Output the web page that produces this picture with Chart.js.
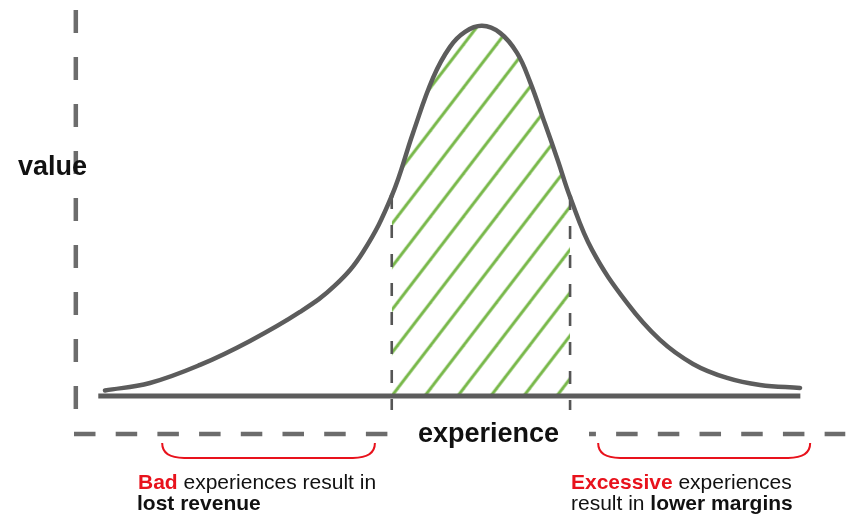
<!DOCTYPE html>
<html>
<head>
<meta charset="utf-8">
<script src="https://cdn.jsdelivr.net/npm/chart.js@4/dist/chart.umd.min.js"></script>
<style>
html,body{margin:0;padding:0;background:#ffffff;}
canvas{display:block;}
</style>
</head>
<body>
<canvas id="c" width="853" height="521"></canvas>
<script>
// ---- data ----
const experience = [0.95, 7.36, 14.49, 21.61, 28.73, 33.72, 37.71, 41.8, 44.83, 47.68, 50.10, 52.24, 54.66, 57.22, 59.64, 61.50, 63.63, 65.48, 67.2, 70.33, 75.31, 80.01, 84.71, 89.56, 94.26, 99.96];
const value      = [1.48, 3.50, 8.36, 14.82, 22.64, 29.78, 38.81, 53.9, 70.89, 85.71, 94.07, 98.11, 99.73, 97.84, 92.45, 84.64, 73.32, 63.34, 53.6, 39.35, 25.07, 15.09, 8.63, 4.85, 2.96, 2.16];
const hatchRange = [41.8, 67.2];
const baselineRange = [0, 100];
const xAxisTitle = 'experience';
const yAxisTitle = 'value';
const bracketSpans = [[9.1, 39.4], [71.2, 101.4]];
// note runs: [text, bold, red]
const leftNoteLine1 = [['Bad', true, true], [' experiences result in', false, false]];
const leftNoteLine2 = [['lost revenue', true, false]];
const rightNoteLine1 = [['Excessive', true, true], [' experiences', false, false]];
const rightNoteLine2 = [['result in ', false, false], ['lower margins', true, false]];

// ---- styling constants ----
const GREY = '#5c5c5c';
const AXIS_GREY = '#6c6c6c';
const RED = '#e8121c';
const GREEN = '#78b84a';
const FONT = '"Liberation Sans", Arial, Helvetica, sans-serif';

const canvas = document.getElementById('c');
const mainCtx = canvas.getContext('2d');

// hatch pattern
const HW = 33, HH = 43;
const tile = document.createElement('canvas');
tile.width = HW; tile.height = HH;
const tg = tile.getContext('2d');
tg.strokeStyle = GREEN;
tg.lineWidth = 3;
for (const m of [0, 1, 2]) {
  tg.beginPath();
  tg.moveTo(-HW, m * HH + HH);
  tg.lineTo(2 * HW, m * HH - 2 * HH);
  tg.stroke();
}
const hatch = mainCtx.createPattern(tile, 'repeat');

const curvePoints = experience.map((x, i) => ({x: x, y: value[i]}));
const yAt = x => value[experience.indexOf(x)];
const guideBottom = -3.8;
const axisX = -3.2, axisYTop = 104;
const axisY = -10.24, axisXStart = -3.46, axisGapStart = 41.4, axisGapEnd = 69.9, axisXEnd = 106.4;

const inRange = c => c.p0.parsed.x >= hatchRange[0] - 1e-9 && c.p1.parsed.x <= hatchRange[1] + 1e-9;

const overlay = {
  id: 'overlay',
  beforeDraw(chart) {
    const xs = chart.scales.x, ys = chart.scales.y;
    const px0 = xs.getPixelForValue(hatchRange[0]);
    const py0 = ys.getPixelForValue(0);
    const s = HH / HW;
    const r = (((py0 + s * px0) % HH) + HH) % HH;
    hatch.setTransform(new DOMMatrix([1, 0, 0, 1, r / s, 0]));
  },
  afterDraw(chart) {
    const ctx = chart.ctx;
    const xs = chart.scales.x, ys = chart.scales.y;
    ctx.save();
    // brackets
    ctx.strokeStyle = RED;
    ctx.lineWidth = 2;
    const yT = ys.getPixelForValue(-12.7), yB = ys.getPixelForValue(-16.7);
    for (const [a, b] of bracketSpans) {
      const x1 = xs.getPixelForValue(a), x2 = xs.getPixelForValue(b);
      ctx.beginPath();
      ctx.moveTo(x1, yT);
      ctx.quadraticCurveTo(x1, yB, x1 + 22, yB);
      ctx.lineTo(x2 - 22, yB);
      ctx.quadraticCurveTo(x2, yB, x2, yT);
      ctx.stroke();
    }
    ctx.textBaseline = 'alphabetic';
    ctx.textAlign = 'left';
    // axis titles
    ctx.fillStyle = '#111';
    ctx.font = 'bold 27px ' + FONT;
    ctx.fillText(yAxisTitle, 18, 175);
    ctx.fillText(xAxisTitle, 418, 442);
    // notes
    const runs = (list, x, y) => {
      for (const [t, b, red] of list) {
        ctx.font = (b ? 'bold ' : '') + '21px ' + FONT;
        ctx.fillStyle = red ? RED : '#111';
        ctx.fillText(t, x, y);
        x += ctx.measureText(t).width;
      }
    };
    runs(leftNoteLine1, 138, 489);
    runs(leftNoteLine2, 137, 510);
    runs(rightNoteLine1, 571, 489);
    runs(rightNoteLine2, 571, 510);
    ctx.restore();
  }
};

new Chart(canvas, {
  type: 'line',
  data: {
    datasets: [
      {
        label: 'curve',
        data: curvePoints,
        borderColor: GREY,
        borderWidth: 4.5,
        borderCapStyle: 'round',
        borderJoinStyle: 'round',
        tension: 0.4,
        pointRadius: 0,
        fill: 'origin',
        backgroundColor: 'rgba(0,0,0,0)',
        segment: { backgroundColor: c => inRange(c) ? hatch : 'rgba(0,0,0,0)' },
        order: 1
      },
      {
        label: 'baseline',
        data: [{x: baselineRange[0], y: 0}, {x: baselineRange[1], y: 0}],
        borderColor: GREY,
        borderWidth: 5,
        pointRadius: 0,
        fill: false,
        order: 2
      },
      {
        label: 'guideLow',
        data: [{x: hatchRange[0], y: yAt(hatchRange[0])}, {x: hatchRange[0], y: guideBottom}],
        borderColor: '#555',
        borderWidth: 2.6,
        borderDash: [13, 16],
        pointRadius: 0,
        fill: false,
        order: 3
      },
      {
        label: 'guideHigh',
        data: [{x: hatchRange[1], y: yAt(hatchRange[1])}, {x: hatchRange[1], y: guideBottom}],
        borderColor: '#555',
        borderWidth: 2.6,
        borderDash: [13, 16],
        pointRadius: 0,
        fill: false,
        order: 3
      },
      {
        label: 'yAxis',
        data: [{x: axisX, y: axisYTop}, {x: axisX, y: guideBottom}],
        borderColor: AXIS_GREY,
        borderWidth: 4.5,
        borderDash: [23, 24],
        pointRadius: 0,
        fill: false,
        order: 4
      },
      {
        label: 'xAxisLeft',
        data: [{x: axisXStart, y: axisY}, {x: axisGapStart, y: axisY}],
        borderColor: AXIS_GREY,
        borderWidth: 4.5,
        borderDash: [21.5, 20.2],
        pointRadius: 0,
        fill: false,
        order: 4
      },
      {
        label: 'xAxisRight',
        data: [{x: axisGapEnd, y: axisY}, {x: axisXEnd, y: axisY}],
        borderColor: AXIS_GREY,
        borderWidth: 4.5,
        borderDash: [21.5, 20.2],
        borderDashOffset: 14.6,
        pointRadius: 0,
        fill: false,
        order: 4
      }
    ]
  },
  options: {
    responsive: false,
    devicePixelRatio: 1,
    animation: false,
    events: [],
    layout: { padding: 0 },
    scales: {
      x: { type: 'linear', min: -14, max: 107.5, display: false },
      y: { type: 'linear', min: -33.7, max: 106.7, display: false }
    },
    plugins: {
      legend: { display: false },
      tooltip: { enabled: false },
      filler: { drawTime: 'beforeDatasetsDraw' }
    }
  },
  plugins: [overlay]
});
</script>
</body>
</html>
